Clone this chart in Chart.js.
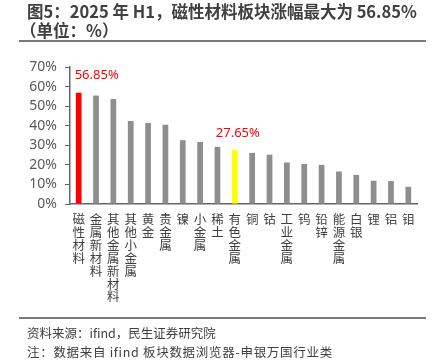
<!DOCTYPE html>
<html><head><meta charset="utf-8">
<script src="https://cdn.jsdelivr.net/npm/chart.js@4"></script>
<style>
html,body{margin:0;padding:0;background:#fff;width:434px;height:361px;overflow:hidden;}
#wrap{position:absolute;left:0;top:0;width:434px;height:361px;}
.t{position:absolute;left:27px;font-family:"Noto Sans CJK SC","Noto Sans",sans-serif;white-space:nowrap;}
.title{font-weight:bold;font-size:16.5px;color:#404040;line-height:19px;}
.rule{position:absolute;left:19px;width:407px;height:2px;background:#7a7a7a;}
.foot{font-size:12.5px;color:#404040;line-height:15px;}
</style></head>
<body>
<div id="wrap"><canvas id="c" width="434" height="361"></canvas></div>
<div class="t title" style="top:2px;">图5：2025 年 H1，磁性材料板块涨幅最大为 56.85%</div>
<div class="t title" style="top:21px;left:20px;">（单位：%）</div>
<div class="rule" style="top:40px;"></div>
<div class="rule" style="top:317px;height:1.5px;"></div>
<div class="t foot" style="top:325px;">资料来源：ifind，民生证券研究院</div>
<div class="t foot" style="top:344px;letter-spacing:0.7px;">注：数据来自 ifind 板块数据浏览器-申银万国行业类</div>
<script>
const categories = ["磁性材料","金属新材料","其他金属新材料","其他小金属","黄金","贵金属","镍","小金属","稀土","有色金属","铜","钴","工业金属","钨","铅锌","能源金属","白银","锂","铝","钼"];
const values = [56.85,55.4,53.6,42.4,41.4,40.5,32.6,31.7,29.2,27.65,26.1,25.2,21.2,20.5,20.0,16.6,14.9,11.9,11.7,8.8];
const highlightLabels = {0:"56.85%", 9:"27.65%"};
const yTicks = [0,10,20,30,40,50,60,70];

const barColors = values.map((v,i)=> i===0 ? "#FF0000" : (i===9 ? "#FFFF00" : "#8E8E8E"));

const labelPlugin = {
  id:"valLabels",
  afterDatasetsDraw(chart){
    const ctx = chart.ctx;
    const meta = chart.getDatasetMeta(0);
    ctx.save();
    ctx.font = '13px "Noto Sans","Open Sans",sans-serif';
    ctx.fillStyle = "#FF0000";
    ctx.textBaseline = "middle";
    ctx.textAlign = "center";
    Object.keys(highlightLabels).forEach(k=>{
      const i = +k;
      const el = meta.data[i];
      let x = el.x;
      if (i===0) x += 18;
      else x += 3;
      ctx.fillText(highlightLabels[k], x, el.y - 17);
    });
    ctx.restore();
  }
};

new Chart(document.getElementById("c"), {
  type:"bar",
  data:{
    labels: categories.map(s=>s.split("")),
    datasets:[{data:values, backgroundColor:barColors, borderWidth:0, barPercentage:0.33, categoryPercentage:1.0}]
  },
  options:{
    responsive:false, animation:false,
    layout:{padding:{top:67,right:17,left:0,bottom:0}},
    plugins:{legend:{display:false}, tooltip:{enabled:false}},
    scales:{
      x:{
        afterFit(s){ s.height = 157; },
        grid:{display:false, drawTicks:false},
        border:{display:true, color:"#666", width:1.5},
        ticks:{autoSkip:false, maxRotation:0, minRotation:0, padding:9, color:"#404040",
          font:{family:'"Noto Sans CJK SC",sans-serif', size:12.5, lineHeight:1.03}}
      },
      y:{
        min:0, max:70,
        afterFit(s){ s.width = 70; },
        afterBuildTicks(s){ s.ticks = yTicks.map(v=>({value:v})); },
        grid:{display:true, drawOnChartArea:false, drawTicks:true, tickLength:5, color:"#666", lineWidth:1},
        border:{display:true, color:"#666", width:1.5},
        ticks:{autoSkip:false, stepSize:10, padding:8, color:"#595959", font:{family:'"Noto Sans","Open Sans",sans-serif', size:14},
          callback:(v)=>v+"%"}
      }
    }
  },
  plugins:[labelPlugin]
});
</script>
</body></html>
